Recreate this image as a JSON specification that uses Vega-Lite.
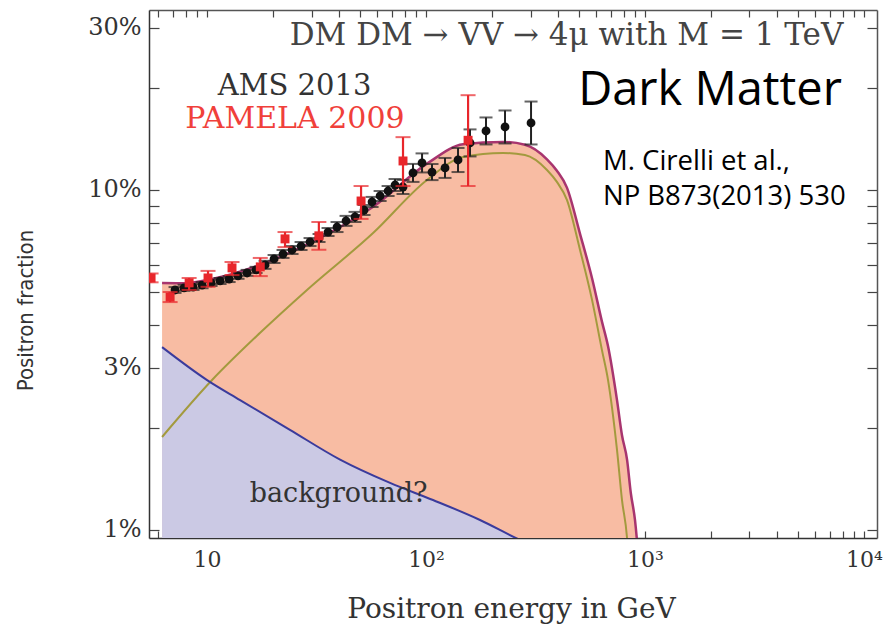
{
  "$schema": "https://vega.github.io/schema/vega-lite/v6.json",
  "autosize": {"type": "none"},
  "width": 728,
  "height": 528,
  "padding": {"left": 149, "top": 10, "right": 18, "bottom": 89},
  "background": "white",
  "config": {"view": {"stroke": null}, "axis": {"grid": false}},
  "datasets": {
    "total": [
      {"E": 6.23, "f": 0.0533}, {"E": 8, "f": 0.0532}, {"E": 10.54, "f": 0.0547}, {"E": 17.47, "f": 0.0602},
      {"E": 28.6, "f": 0.0692}, {"E": 57.3, "f": 0.0892}, {"E": 101, "f": 0.1195}, {"E": 147.6, "f": 0.1362},
      {"E": 224.7, "f": 0.1384}, {"E": 283, "f": 0.1359}, {"E": 356.8, "f": 0.1231}, {"E": 396, "f": 0.1139},
      {"E": 440, "f": 0.1016}, {"E": 505, "f": 0.0743}, {"E": 573, "f": 0.055}, {"E": 636, "f": 0.041},
      {"E": 678, "f": 0.0347}, {"E": 745, "f": 0.0241}, {"E": 785, "f": 0.019}, {"E": 828, "f": 0.0161},
      {"E": 862, "f": 0.0128}, {"E": 900, "f": 0.0107}, {"E": 918, "f": 0.0094}, {"E": 940, "f": 0.0078}
    ],
    "signal": [
      {"E": 6.23, "f": 0.01877}, {"E": 10.54, "f": 0.0276}, {"E": 17.47, "f": 0.038}, {"E": 28.6, "f": 0.0508},
      {"E": 57.3, "f": 0.0747}, {"E": 101, "f": 0.107}, {"E": 147.6, "f": 0.125}, {"E": 224.7, "f": 0.1285},
      {"E": 283, "f": 0.1267}, {"E": 356.8, "f": 0.1145}, {"E": 396, "f": 0.1056}, {"E": 440, "f": 0.0935},
      {"E": 505, "f": 0.0666}, {"E": 573, "f": 0.0475}, {"E": 636, "f": 0.0338}, {"E": 678, "f": 0.0276},
      {"E": 745, "f": 0.0172}, {"E": 785, "f": 0.01226}, {"E": 828, "f": 0.00947}, {"E": 862, "f": 0.00622},
      {"E": 900, "f": 0.0042}
    ],
    "bg": [
      {"E": 6.23, "f": 0.0345}, {"E": 10, "f": 0.0276}, {"E": 14.15, "f": 0.0241}, {"E": 23.9, "f": 0.0197},
      {"E": 40.5, "f": 0.0161}, {"E": 68.5, "f": 0.01375}, {"E": 107.6, "f": 0.01225}, {"E": 176.4, "f": 0.0107},
      {"E": 268.5, "f": 0.00935}, {"E": 350, "f": 0.0087}
    ],
    "ams": [
      {"E": 7.14, "f": 0.0508, "lo": 0.0498, "hi": 0.0518},
      {"E": 7.85, "f": 0.0515, "lo": 0.0505, "hi": 0.0526},
      {"E": 8.63, "f": 0.0518, "lo": 0.0508, "hi": 0.0529},
      {"E": 9.49, "f": 0.0525, "lo": 0.0514, "hi": 0.0536},
      {"E": 10.43, "f": 0.0533, "lo": 0.0522, "hi": 0.0544},
      {"E": 11.47, "f": 0.054, "lo": 0.0529, "hi": 0.0551},
      {"E": 12.61, "f": 0.0547, "lo": 0.0536, "hi": 0.0558},
      {"E": 13.85, "f": 0.0559, "lo": 0.0548, "hi": 0.057},
      {"E": 15.23, "f": 0.057, "lo": 0.0559, "hi": 0.0582},
      {"E": 16.74, "f": 0.0582, "lo": 0.057, "hi": 0.0594},
      {"E": 18.4, "f": 0.0602, "lo": 0.0586, "hi": 0.0619},
      {"E": 20.23, "f": 0.0627, "lo": 0.061, "hi": 0.0644},
      {"E": 22.23, "f": 0.0648, "lo": 0.0631, "hi": 0.0666},
      {"E": 24.44, "f": 0.0666, "lo": 0.0648, "hi": 0.0684},
      {"E": 26.87, "f": 0.0684, "lo": 0.0666, "hi": 0.0703},
      {"E": 29.53, "f": 0.0703, "lo": 0.0684, "hi": 0.0722},
      {"E": 32.46, "f": 0.0722, "lo": 0.0703, "hi": 0.0742},
      {"E": 35.68, "f": 0.0752, "lo": 0.0732, "hi": 0.0773},
      {"E": 39.22, "f": 0.0778, "lo": 0.0752, "hi": 0.0805},
      {"E": 43.12, "f": 0.0811, "lo": 0.0784, "hi": 0.0839},
      {"E": 47.4, "f": 0.0833, "lo": 0.0805, "hi": 0.0862},
      {"E": 52.11, "f": 0.0873, "lo": 0.0844, "hi": 0.0903},
      {"E": 56.7, "f": 0.0922, "lo": 0.0891, "hi": 0.0954},
      {"E": 61.7, "f": 0.096, "lo": 0.0928, "hi": 0.0993},
      {"E": 67.1, "f": 0.0993, "lo": 0.096, "hi": 0.1027},
      {"E": 72.2, "f": 0.1034, "lo": 0.0993, "hi": 0.1077},
      {"E": 78.5, "f": 0.102, "lo": 0.0973, "hi": 0.107},
      {"E": 87.2, "f": 0.1122, "lo": 0.1056, "hi": 0.1193},
      {"E": 95.9, "f": 0.1201, "lo": 0.1126, "hi": 0.1281},
      {"E": 106.5, "f": 0.1129, "lo": 0.1069, "hi": 0.1192},
      {"E": 122.1, "f": 0.1161, "lo": 0.1085, "hi": 0.1242},
      {"E": 140.0, "f": 0.1225, "lo": 0.1129, "hi": 0.1329},
      {"E": 158.8, "f": 0.1375, "lo": 0.1255, "hi": 0.1507},
      {"E": 187.9, "f": 0.1491, "lo": 0.1361, "hi": 0.1634},
      {"E": 229.5, "f": 0.1532, "lo": 0.137, "hi": 0.1713},
      {"E": 301.7, "f": 0.1574, "lo": 0.1361, "hi": 0.182}
    ],
    "pamela": [
      {"E": 5.55, "f": 0.0551, "lo": 0.0535, "hi": 0.0568},
      {"E": 6.78, "f": 0.0484, "lo": 0.0468, "hi": 0.0501},
      {"E": 8.28, "f": 0.0533, "lo": 0.0508, "hi": 0.0551},
      {"E": 10.1, "f": 0.0551, "lo": 0.0519, "hi": 0.0578},
      {"E": 13.0, "f": 0.059, "lo": 0.0562, "hi": 0.0614},
      {"E": 17.5, "f": 0.0594, "lo": 0.0558, "hi": 0.0631},
      {"E": 22.7, "f": 0.0718, "lo": 0.0679, "hi": 0.0752},
      {"E": 32.4, "f": 0.0733, "lo": 0.0667, "hi": 0.0805},
      {"E": 50.5, "f": 0.0928, "lo": 0.0822, "hi": 0.1027},
      {"E": 78.5, "f": 0.1217, "lo": 0.1027, "hi": 0.143},
      {"E": 155.6, "f": 0.14, "lo": 0.1027, "hi": 0.19}
    ]
  },
  "resolve": {"axis": {"x": "independent", "y": "independent"}},
  "layer": [
    {
      "data": {"name": "total"},
      "mark": {"type": "area", "color": "#F8BCA3", "opacity": 1, "clip": true, "interpolate": "monotone"},
      "encoding": {
        "x": {
          "field": "E", "type": "quantitative",
          "scale": {"type": "log", "domain": [5.43, 11470], "nice": false},
          "axis": {
            "orient": "bottom", "title": "Positron energy in GeV",
            "values": [6,7,8,9,10,20,30,40,50,60,70,80,90,100,200,300,400,500,600,700,800,900,1000,2000,3000,4000,5000,6000,7000,8000,9000,10000],
            "labelExpr": "datum.value == 10 ? '10' : datum.value == 100 ? '10²' : datum.value == 1000 ? '10³' : datum.value == 10000 ? '10⁴' : ''",
            "labelOverlap": false, "labelFlush": false,
            "tickSize": -7, "tickColor": "#444", "tickWidth": 1.2,
            "domainColor": "#333", "domainWidth": 1.5,
            "labelFont": "DejaVu Serif", "labelFontSize": 22, "labelColor": "#333", "labelPadding": 18, "labelBaseline": "top",
            "titleFont": "DejaVu Serif", "titleFontSize": 28, "titleFontWeight": "normal", "titleColor": "#333",
            "titleX": 362, "titleY": 79, "titleBaseline": "alphabetic", "titleAlign": "center"
          }
        },
        "y": {
          "field": "f", "type": "quantitative",
          "scale": {"type": "log", "domain": [0.00947, 0.3383], "nice": false},
          "axis": {
            "orient": "left", "title": "Positron fraction",
            "values": [0.01,0.02,0.03,0.04,0.05,0.06,0.07,0.08,0.09,0.1,0.2,0.3],
            "labelExpr": "datum.value == 0.01 ? '1%' : datum.value == 0.03 ? '3%' : datum.value == 0.1 ? '10%' : datum.value == 0.3 ? '30%' : ''",
            "labelOverlap": false, "labelFlush": false,
            "tickSize": -10, "tickColor": "#444", "tickWidth": 1.2,
            "domainColor": "#333", "domainWidth": 1.5,
            "labelFont": "DejaVu Serif", "labelFontSize": 24, "labelColor": "#333", "labelPadding": 18,
            "titleFont": "Liberation Sans Narrow, DejaVu Sans Condensed, sans-serif", "titleFontSize": 22, "titleFontWeight": "normal", "titleColor": "#333",
            "titleX": -124, "titleY": 300, "titleAngle": -90, "titleAlign": "center", "titleBaseline": "middle"
          }
        },
        "y2": {"datum": 0.005}
      }
    },
    {
      "data": {"name": "bg"},
      "mark": {"type": "area", "color": "#CBC9E4", "opacity": 1, "clip": true, "interpolate": "monotone"},
      "encoding": {
        "x": {
          "field": "E", "type": "quantitative",
          "axis": {
            "orient": "top", "title": null, "labels": false,
            "values": [6,7,8,9,10,20,30,40,50,60,70,80,90,100,200,300,400,500,600,700,800,900,1000,2000,3000,4000,5000,6000,7000,8000,9000,10000],
            "tickSize": -7, "tickColor": "#444", "tickWidth": 1.2, "domainColor": "#555", "domainWidth": 1.5
          }
        },
        "y": {
          "field": "f", "type": "quantitative",
          "axis": {
            "orient": "right", "title": null, "labels": false,
            "values": [0.01,0.02,0.03,0.04,0.05,0.06,0.07,0.08,0.09,0.1,0.2,0.3],
            "tickSize": -10, "tickColor": "#444", "tickWidth": 1.2, "domainColor": "#555", "domainWidth": 1.5
          }
        },
        "y2": {"datum": 0.005}
      }
    },
    {
      "data": {"name": "signal"},
      "mark": {"type": "line", "color": "#A39A3E", "strokeWidth": 2, "clip": true, "interpolate": "monotone"},
      "encoding": {
        "x": {"field": "E", "type": "quantitative", "axis": null},
        "y": {"field": "f", "type": "quantitative", "axis": null}
      }
    },
    {
      "data": {"name": "total"},
      "mark": {"type": "line", "color": "#A8356F", "strokeWidth": 2.5, "clip": true, "interpolate": "monotone"},
      "encoding": {
        "x": {"field": "E", "type": "quantitative", "axis": null},
        "y": {"field": "f", "type": "quantitative", "axis": null}
      }
    },
    {
      "data": {"name": "bg"},
      "mark": {"type": "line", "color": "#3B3B9C", "strokeWidth": 2, "clip": true, "interpolate": "monotone"},
      "encoding": {
        "x": {"field": "E", "type": "quantitative", "axis": null},
        "y": {"field": "f", "type": "quantitative", "axis": null}
      }
    },
    {
      "data": {"name": "ams"},
      "mark": {"type": "rule", "color": "#222", "strokeWidth": 2, "clip": true},
      "encoding": {
        "x": {"field": "E", "type": "quantitative", "axis": null},
        "y": {"field": "lo", "type": "quantitative", "axis": null},
        "y2": {"field": "hi"}
      }
    },
    {
      "data": {"name": "ams"},
      "mark": {"type": "tick", "orient": "horizontal", "size": 13, "thickness": 2, "color": "#222", "clip": true},
      "encoding": {
        "x": {"field": "E", "type": "quantitative", "axis": null},
        "y": {"field": "lo", "type": "quantitative", "axis": null}
      }
    },
    {
      "data": {"name": "ams"},
      "mark": {"type": "tick", "orient": "horizontal", "size": 13, "thickness": 2, "color": "#222", "clip": true},
      "encoding": {
        "x": {"field": "E", "type": "quantitative", "axis": null},
        "y": {"field": "hi", "type": "quantitative", "axis": null}
      }
    },
    {
      "data": {"name": "ams"},
      "mark": {"type": "point", "shape": "circle", "filled": true, "size": 78, "color": "#111", "opacity": 1, "clip": true},
      "encoding": {
        "x": {"field": "E", "type": "quantitative", "axis": null},
        "y": {"field": "f", "type": "quantitative", "axis": null}
      }
    },
    {
      "data": {"name": "pamela"},
      "mark": {"type": "rule", "color": "#E8262B", "strokeWidth": 2.2, "clip": true},
      "encoding": {
        "x": {"field": "E", "type": "quantitative", "axis": null},
        "y": {"field": "lo", "type": "quantitative", "axis": null},
        "y2": {"field": "hi"}
      }
    },
    {
      "data": {"name": "pamela"},
      "mark": {"type": "tick", "orient": "horizontal", "size": 15, "thickness": 2, "color": "#E8262B", "clip": true},
      "encoding": {
        "x": {"field": "E", "type": "quantitative", "axis": null},
        "y": {"field": "lo", "type": "quantitative", "axis": null}
      }
    },
    {
      "data": {"name": "pamela"},
      "mark": {"type": "tick", "orient": "horizontal", "size": 15, "thickness": 2, "color": "#E8262B", "clip": true},
      "encoding": {
        "x": {"field": "E", "type": "quantitative", "axis": null},
        "y": {"field": "hi", "type": "quantitative", "axis": null}
      }
    },
    {
      "data": {"name": "pamela"},
      "mark": {"type": "point", "shape": "square", "filled": true, "size": 80, "color": "#E8262B", "opacity": 1, "clip": true},
      "encoding": {
        "x": {"field": "E", "type": "quantitative", "axis": null},
        "y": {"field": "f", "type": "quantitative", "axis": null}
      }
    },
    {
      "data": {"values": [{"E": 438, "f": 0.267, "label": "DM DM → VV → 4μ with M = 1 TeV"}]},
      "mark": {"type": "text", "font": "DejaVu Serif", "fontSize": 31, "align": "center", "baseline": "alphabetic", "color": "#444"},
      "encoding": {
        "x": {"field": "E", "type": "quantitative", "axis": null},
        "y": {"field": "f", "type": "quantitative", "axis": null},
        "text": {"field": "label"}
      }
    },
    {
      "data": {"values": [{"E": 25.1, "f": 0.19, "label": "AMS 2013"}]},
      "mark": {"type": "text", "font": "DejaVu Serif", "fontSize": 29, "align": "center", "baseline": "alphabetic", "color": "#333"},
      "encoding": {
        "x": {"field": "E", "type": "quantitative", "axis": null},
        "y": {"field": "f", "type": "quantitative", "axis": null},
        "text": {"field": "label"}
      }
    },
    {
      "data": {"values": [{"E": 25.2, "f": 0.152, "label": "PAMELA 2009"}]},
      "mark": {"type": "text", "font": "DejaVu Serif", "fontSize": 30, "align": "center", "baseline": "alphabetic", "color": "#F0403A"},
      "encoding": {
        "x": {"field": "E", "type": "quantitative", "axis": null},
        "y": {"field": "f", "type": "quantitative", "axis": null},
        "text": {"field": "label"}
      }
    },
    {
      "data": {"values": [{"E": 39.9, "f": 0.01209, "label": "background?"}]},
      "mark": {"type": "text", "font": "DejaVu Serif", "fontSize": 27, "align": "center", "baseline": "alphabetic", "color": "#333"},
      "encoding": {
        "x": {"field": "E", "type": "quantitative", "axis": null},
        "y": {"field": "f", "type": "quantitative", "axis": null},
        "text": {"field": "label"}
      }
    },
    {
      "data": {"values": [{"E": 1982, "f": 0.178, "label": "Dark Matter"}]},
      "mark": {"type": "text", "font": "Open Sans", "fontSize": 47, "align": "center", "baseline": "alphabetic", "color": "#000"},
      "encoding": {
        "x": {"field": "E", "type": "quantitative", "axis": null},
        "y": {"field": "f", "type": "quantitative", "axis": null},
        "text": {"field": "label"}
      }
    },
    {
      "data": {"values": [{"E": 642.7, "f": 0.1145, "label": "M. Cirelli et al.,"}, {"E": 642.7, "f": 0.0903, "label": "NP B873(2013) 530"}]},
      "mark": {"type": "text", "font": "Open Sans", "fontSize": 27.5, "align": "left", "baseline": "alphabetic", "color": "#000"},
      "encoding": {
        "x": {"field": "E", "type": "quantitative", "axis": null},
        "y": {"field": "f", "type": "quantitative", "axis": null},
        "text": {"field": "label"}
      }
    }
  ]
}
